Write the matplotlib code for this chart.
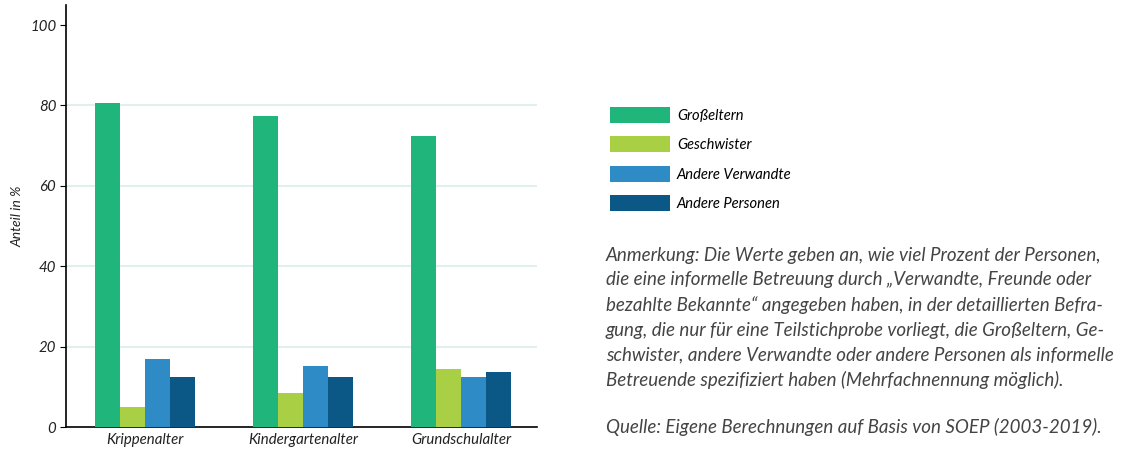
import matplotlib
matplotlib.use("Agg")
import matplotlib.pyplot as plt
import numpy as np
from matplotlib.patches import Patch

plt.rcParams['font.family'] = ['Lato', 'DejaVu Sans']

# data
categories = ['Krippenalter', 'Kindergartenalter', 'Grundschulalter']
series = ['Großeltern', 'Geschwister', 'Andere Verwandte', 'Andere Personen']
grosseltern = [80.6, 77.5, 72.5]
geschwister = [4.9, 8.4, 14.4]
andere_verwandte = [16.9, 15.2, 12.4]
andere_personen = [12.5, 12.4, 13.6]
values = [grosseltern, geschwister, andere_verwandte, andere_personen]
colors = ['#20b57a', '#a9cf45', '#2e8bc6', '#0b5785']

note = ("Anmerkung: Die Werte geben an, wie viel Prozent der Personen,\n"
        "die eine informelle Betreuung durch \u201eVerwandte, Freunde oder\n"
        "bezahlte Bekannte\u201c angegeben haben, in der detaillierten Befra-\n"
        "gung, die nur für eine Teilstichprobe vorliegt, die Großeltern, Ge-\n"
        "schwister, andere Verwandte oder andere Personen als informelle\n"
        "Betreuende spezifiziert haben (Mehrfachnennung möglich).")
source = "Quelle: Eigene Berechnungen auf Basis von SOEP (2003-2019)."

fig = plt.figure(figsize=(11.26, 4.5), dpi=100)
ax = fig.add_axes([0.0586, 0.051, 0.4183, 0.938])

x = np.arange(len(categories))
width = 0.158
for i, (vals, col) in enumerate(zip(values, colors)):
    ax.bar(x + (i - 1.5) * width, vals, width, color=col, label=series[i], zorder=3)

ax.set_xlim(-0.5, 2.48)
ax.set_ylim(0, 105)
ax.set_yticks([0, 20, 40, 60, 80, 100])
ax.set_xticks(x)
ax.set_xticklabels(categories, fontstyle='italic', fontsize=10.8, color='#222222')
for lbl in ax.get_yticklabels():
    lbl.set_fontstyle('italic')
    lbl.set_fontsize(10.8)
    lbl.set_color('#222222')
ax.tick_params(axis='x', length=0, pad=4)
ax.tick_params(axis='y', length=4, width=0.8, pad=3)
for y in [20, 40, 60, 80]:
    ax.axhline(y, color='#e1f0ee', linewidth=1.5, zorder=1)
ax.spines['top'].set_visible(False)
ax.spines['right'].set_visible(False)
ax.spines['left'].set_linewidth(1.2)
ax.spines['bottom'].set_linewidth(1.2)
ax.set_ylabel('Anteil in %', fontstyle='italic', fontsize=10, color='#222222', labelpad=5)

handles = [Patch(facecolor=c, edgecolor='none') for c in colors]
fig.legend(handles, series, loc='upper left', bbox_to_anchor=(0.5417, 0.762),
           frameon=False, borderpad=0, borderaxespad=0,
           handlelength=4.1, handleheight=1.3, labelspacing=0.9, handletextpad=0.45,
           prop={'style': 'italic', 'size': 10.6})

fig.text(0.538, 0.452, note, fontstyle='italic', fontsize=13.5, color='#444444',
         va='top', ha='left', linespacing=1.54)
fig.text(0.538, 0.051, source, fontstyle='italic', fontsize=13.5, color='#444444',
         va='center', ha='left')

fig.savefig('out.png', dpi=100)
